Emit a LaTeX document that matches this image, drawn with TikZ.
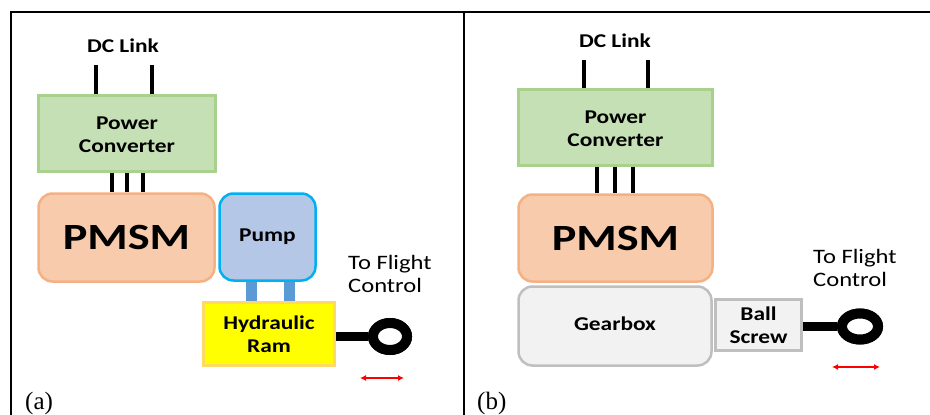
\documentclass[tikz,border=0pt]{standalone}
\usepackage{fontspec}
\usepackage{graphicx}
\setmainfont{Carlito}
\newfontfamily\capfont{Liberation Serif}
\usetikzlibrary{arrows.meta,shapes.geometric}

\definecolor{convfill}{HTML}{C5E0B4}
\definecolor{convline}{HTML}{A9D18E}
\definecolor{motfill}{HTML}{F8CBAD}
\definecolor{motline}{HTML}{F4B183}
\definecolor{pumpfill}{HTML}{B4C7E7}
\definecolor{pumpline}{HTML}{00B0F0}
\definecolor{pipecol}{HTML}{5B9BD5}
\definecolor{ramfill}{HTML}{FFFF00}
\definecolor{ramline}{HTML}{FFD966}
\definecolor{gearfill}{HTML}{F2F2F2}
\definecolor{gearline}{HTML}{BFBFBF}
\definecolor{motion}{HTML}{FF0000}

% wide Calibri-like lettering, one or more lines
\newcommand\wtxt[3][c]{\scalebox{1.2}[1]{\fontsize{#2}{23}\selectfont\begin{tabular}[t]{@{}#1@{}}#3\end{tabular}}}
% the same, set a little lower inside its box
\newcommand\wlow[2]{\raisebox{-2.5pt}[\height][\depth]{\wtxt{#1}{#2}}}

\tikzset{
  blk/.style={draw, line width=2.5pt, inner sep=0pt, font=\bfseries},
  convbox/.style={blk, fill=convfill, draw=convline},
  motbox/.style={blk, fill=motfill, draw=motline, rounded corners=14pt},
  pumpbox/.style={blk, fill=pumpfill, draw=pumpline, rounded corners=14pt},
  rambox/.style={blk, fill=ramfill, draw=ramline},
  gearbox/.style={blk, fill=gearfill, draw=gearline, rounded corners=14pt},
  screwbox/.style={blk, fill=gearfill, draw=gearline},
  dcwire/.style={line width=3.5pt},
  phase/.style={line width=4.5pt},
  pipe/.style={line width=11pt, pipecol},
  rod/.style={line width=9pt},
  eye/.style={draw, ellipse, line width=10pt, inner sep=0pt, fill=white},
  travel/.style={motion, line width=1.5pt, {Latex[length=6pt,width=6pt]}-{Latex[length=6pt,width=6pt]}},
  lbl/.style={inner sep=0pt},
  tag/.style={inner sep=0pt, font=\capfont\fontsize{25}{28}\selectfont}
}

\begin{document}
\begin{tikzpicture}[x=1pt,y=1pt]
\useasboundingbox (0,0) rectangle (930,-415);

% frame
\draw[line width=1.5pt] (11,-415) -- (11,-12) -- (930,-12);
\draw[line width=1.5pt] (464,-12) -- (464,-415);

% ---------- (a) electro-hydrostatic actuator ----------
\node[convbox, minimum width=177, minimum height=76] (convA) at (127,-133.5) {\wlow{19.5}{Power\\Converter}};
\node[motbox, minimum width=176, minimum height=88] (pmsmA) at (126.5,-237.5) {\scalebox{1.25}[1]{\fontsize{37}{40}\selectfont PMSM}};
\node[pumpbox, minimum width=96, minimum height=87] (pump) at (267.5,-237) {\wtxt{19.5}{Pump}};
\node[rambox, minimum width=131, minimum height=63] (ram) at (269,-334) {\wlow{19.5}{Hydraulic\\Ram}};
\node[eye, minimum width=34, minimum height=27] (eyeA) at (390,-336.5) {};

\node[lbl, font=\bfseries] (dcA) at (123,-48) {\wtxt{19.5}{DC Link}};
\coordinate (dcA1) at (96,-65);
\coordinate (dcA2) at (152,-65);
\draw[dcwire] (dcA1) -- (dcA1 |- convA.north);
\draw[dcwire] (dcA2) -- (dcA2 |- convA.north);

\foreach \px in {112,127,143}
  \draw[phase] (\px,0 |- convA.south) -- (\px,0 |- pmsmA.north);

\foreach \px in {251.5,289}
  \draw[pipe] (\px,0 |- pump.south) -- (\px,0 |- ram.north);

\draw[rod] (ram.east |- eyeA.center) -- (eyeA.west);
\node[eye, minimum width=34, minimum height=27] at (eyeA.center) {};

\node[lbl, anchor=base west] (flA) at (348,-269) {\wtxt[l]{20.5}{To Flight\\Control}};
\coordinate (trA1) at (360,-378);
\coordinate (trA2) at (404,-378);
\draw[travel] (trA1) -- (trA2);

\node[tag, anchor=west] (capA) at (25,-403) {(a)};

% ---------- (b) electro-mechanical actuator ----------
\node[convbox, minimum width=194, minimum height=76] (convB) at (615.5,-127.5) {\wlow{19.5}{Power\\Converter}};
\node[motbox, minimum width=194, minimum height=87] (pmsmB) at (615.5,-238) {\scalebox{1.25}[1]{\fontsize{37}{40}\selectfont PMSM}};
\node[gearbox, minimum width=193, minimum height=79] (gear) at (615,-326) {\wtxt{19.5}{Gearbox}};
\node[screwbox, minimum width=86, minimum height=51] (screw) at (758.5,-325) {\wlow{19.5}{Ball\\Screw}};
\node[eye, minimum width=36, minimum height=26] (eyeB) at (860,-326.5) {};

\node[lbl, font=\bfseries] (dcB) at (615,-43) {\wtxt{19.5}{DC Link}};
\coordinate (dcB1) at (584,-60);
\coordinate (dcB2) at (648,-60);
\draw[dcwire] (dcB1) -- (dcB1 |- convB.north);
\draw[dcwire] (dcB2) -- (dcB2 |- convB.north);

\foreach \px in {597,615,633}
  \draw[phase] (\px,0 |- convB.south) -- (\px,0 |- pmsmB.north);

\draw[rod] (screw.east |- eyeB.center) -- (eyeB.west);
\node[eye, minimum width=36, minimum height=26] at (eyeB.center) {};

\node[lbl, anchor=base west] (flB) at (813,-263) {\wtxt[l]{20.5}{To Flight\\Control}};
\coordinate (trB1) at (832,-367);
\coordinate (trB2) at (880,-367);
\draw[travel] (trB1) -- (trB2);

\node[tag, anchor=west] (capB) at (477,-403) {(b)};
\end{tikzpicture}
\end{document}
